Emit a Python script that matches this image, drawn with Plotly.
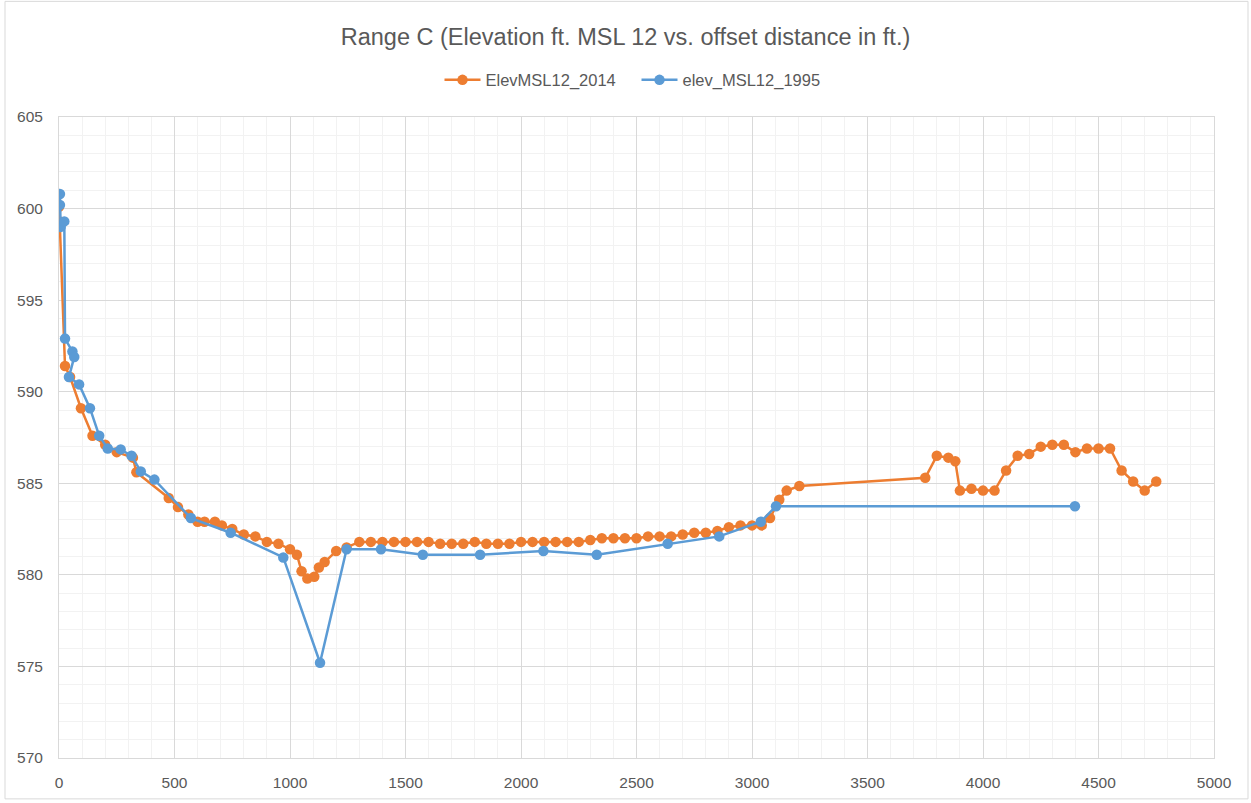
import plotly.graph_objects as go

# ElevMSL12_2014
x_2014 = [0, 3, 26, 48, 95, 145, 200, 250, 320, 335, 475, 515, 560, 600, 630, 675, 705, 750,
          800, 850, 900, 950, 1000, 1030, 1050, 1075, 1105, 1125, 1150, 1200, 1245,
          1300, 1350, 1400, 1450, 1500, 1550, 1600, 1650, 1700, 1750, 1800, 1850, 1900, 1950,
          2000, 2050, 2100, 2150, 2200, 2250, 2300, 2350, 2400, 2450, 2500, 2550, 2600, 2650,
          2700, 2750, 2800, 2850, 2900, 2950, 3000, 3042, 3078, 3118, 3150, 3205,
          3750, 3800, 3850, 3880, 3900, 3950, 4000, 4050, 4100, 4150, 4200, 4250, 4300, 4350,
          4400, 4450, 4500, 4550, 4600, 4650, 4700, 4750]
y_2014 = [600.1, 599.3, 591.4, 590.8, 589.1, 587.6, 587.1, 586.7, 586.4, 585.6, 584.2, 583.7, 583.3, 582.9, 582.9, 582.9, 582.7, 582.5,
          582.2, 582.1, 581.8, 581.7, 581.4, 581.1, 580.2, 579.8, 579.9, 580.4, 580.7, 581.3, 581.5,
          581.8, 581.8, 581.8, 581.8, 581.8, 581.8, 581.8, 581.7, 581.7, 581.7, 581.8, 581.7, 581.7, 581.7,
          581.8, 581.8, 581.8, 581.8, 581.8, 581.8, 581.9, 582.0, 582.0, 582.0, 582.0, 582.1, 582.1, 582.1,
          582.2, 582.3, 582.3, 582.4, 582.6, 582.7, 582.7, 582.7, 583.1, 584.1, 584.6, 584.85,
          585.3, 586.5, 586.4, 586.2, 584.6, 584.7, 584.6, 584.6, 585.7, 586.5, 586.6, 587.0, 587.1, 587.1,
          586.7, 586.9, 586.9, 586.9, 585.7, 585.1, 584.6, 585.1]

# elev_MSL12_1995
x_1995 = [4, 4, 7, 23, 26, 58, 66, 43, 87, 134, 174, 211, 267, 314, 354, 413, 571, 743, 971,
          1130, 1245, 1394, 1575, 1823, 2097, 2328, 2635, 2858, 3038, 3104, 4398]
y_1995 = [600.8, 600.2, 599.0, 599.3, 592.9, 592.2, 591.9, 590.8, 590.4, 589.1, 587.6, 586.9, 586.85, 586.5, 585.65, 585.2, 583.1, 582.3, 580.95,
          575.2, 581.4, 581.4, 581.1, 581.1, 581.3, 581.1, 581.7, 582.1, 582.9, 583.75, 583.75]

x_ticks = [0, 500, 1000, 1500, 2000, 2500, 3000, 3500, 4000, 4500, 5000]
y_ticks = [570, 575, 580, 585, 590, 595, 600, 605]

ORANGE = "#ED7D31"
BLUE = "#5B9BD5"
TXT = "#595959"
FONT = "Liberation Sans"

fig = go.Figure()
fig.add_trace(go.Scatter(x=x_2014, y=y_2014, name="ElevMSL12_2014", mode="lines+markers",
                         line=dict(color=ORANGE, width=2.5),
                         marker=dict(color=ORANGE, size=10.5)))
fig.add_trace(go.Scatter(x=x_1995, y=y_1995, name="elev_MSL12_1995", mode="lines+markers",
                         line=dict(color=BLUE, width=2.5),
                         marker=dict(color=BLUE, size=10.5)))

W, H = 1251, 803
L, R, T, B = 59, 37, 117, 43
pw, ph = W - L - R, H - T - B

fig.update_layout(
    width=W, height=H,
    margin=dict(l=L, r=R, t=T, b=B),
    paper_bgcolor="white", plot_bgcolor="white",
    font=dict(family=FONT, color=TXT, size=15.5),
    title=dict(text="Range C (Elevation ft. MSL 12 vs. offset distance in ft.)",
               x=0.5, xanchor="center", y=1 - 37 / H, yanchor="middle",
               font=dict(size=23.5, color=TXT, family=FONT)),
    legend=dict(orientation="h", x=0.5, xanchor="center", y=1 + 37 / ph, yanchor="middle",
                font=dict(size=16.5, color=TXT), itemwidth=36, entrywidth=146,
                bgcolor="rgba(0,0,0,0)"),
    showlegend=True,
    xaxis=dict(range=[0, 5000], tickmode="array", tickvals=x_ticks,
               showgrid=True, gridcolor="#D9D9D9", gridwidth=1,
               minor=dict(dtick=100, showgrid=True, gridcolor="#F2F2F2", gridwidth=1),
               showline=True, linecolor="#D9D9D9", linewidth=1, mirror=True,
               zeroline=False, ticks="", ticklabelstandoff=10,
               tickfont=dict(size=15.5, color=TXT)),
    yaxis=dict(range=[570, 605], tickmode="array", tickvals=y_ticks,
               showgrid=True, gridcolor="#D9D9D9", gridwidth=1,
               minor=dict(dtick=1, showgrid=True, gridcolor="#F2F2F2", gridwidth=1),
               showline=True, linecolor="#D9D9D9", linewidth=1, mirror=True,
               zeroline=False, ticks="", ticklabelstandoff=12,
               tickfont=dict(size=15.5, color=TXT)),
    shapes=[dict(type="rect", xref="paper", yref="paper",
                 x0=(5 - L) / pw, x1=(1248 - L) / pw,
                 y0=-(H - 2 - T - ph) / ph, y1=1 + (T - 1) / ph,
                 line=dict(color="#D9D9D9", width=1), fillcolor="rgba(0,0,0,0)", layer="below")],
)

fig.write_html("out.html", config={"displayModeBar": False},
               post_script="document.body.style.margin='0px';")
